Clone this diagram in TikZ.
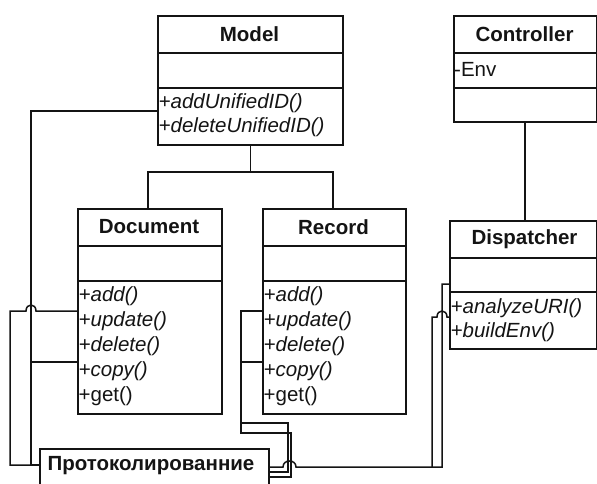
\documentclass[tikz,border=0pt]{standalone}
\usepackage{fontspec}
\setmainfont{Liberation Sans}
\definecolor{ink}{HTML}{141414}
\begin{document}
\begin{tikzpicture}[x=1pt,y=-1pt,
  cls/.style={draw=ink, line width=1.7pt, rectangle, inner sep=0pt, anchor=north west},
  sep/.style={draw=ink, line width=1.6pt},
  wire/.style={draw=ink, line width=1.5pt},
  hdr/.style={font=\fontsize{20.5}{23}\selectfont\bfseries, text=ink, inner sep=0pt},
  meth/.style={font=\fontsize{20.5}{23}\selectfont, text=ink, inner sep=0pt, anchor=west}]
\useasboundingbox (0,0) rectangle (597,484);

% Model
\node[cls, minimum width=185pt, minimum height=129pt] (model) at (157,15) {};
\draw[sep] (model.west |- 0,53) -- (model.east |- 0,53);
\draw[sep] (model.west |- 0,88) -- (model.east |- 0,88);
\node[hdr] (modelH) at (249.5,34) {Model};
\node[meth] (m1) at (158.5,103) {\textit{+addUnifiedID()}};
\node[meth] (m2) at (158.5,127) {\textit{+deleteUnifiedID()}};

% Controller
\node[cls, minimum width=143pt, minimum height=106pt] (ctrl) at (453,15) {};
\draw[sep] (ctrl.west |- 0,53) -- (ctrl.east |- 0,53);
\draw[sep] (ctrl.west |- 0,88) -- (ctrl.east |- 0,88);
\node[hdr] (ctrlH) at (524.5,34) {Controller};
\node[meth] (c1) at (454,69) {-Env};

% Dispatcher
\node[cls, minimum width=147pt, minimum height=128pt] (disp) at (449,220) {};
\draw[sep] (disp.west |- 0,258) -- (disp.east |- 0,258);
\draw[sep] (disp.west |- 0,292) -- (disp.east |- 0,292);
\node[hdr] (dispH) at (524.5,239) {Dispatcher};
\node[meth] (d1) at (450.5,308) {\textit{+analyzeURI()}};
\node[meth] (d2) at (450.5,332) {\textit{+buildEnv()}};

% Document
\node[cls, minimum width=144pt, minimum height=205pt] (doc) at (77,208) {};
\draw[sep] (doc.west |- 0,246) -- (doc.east |- 0,246);
\draw[sep] (doc.west |- 0,281) -- (doc.east |- 0,281);
\node[hdr] (docH) at (149,227) {Document};
\node[meth] (o1) at (78.5,296) {\textit{+add()}};
\node[meth] (o2) at (78.5,321) {\textit{+update()}};
\node[meth] (o3) at (78.5,346) {\textit{+delete()}};
\node[meth] (o4) at (78.5,371) {\textit{+copy()}};
\node[meth] (o5) at (78.5,396) {+get()};

% Record
\node[cls, minimum width=143pt, minimum height=205pt] (rec) at (262,208) {};
\draw[sep] (rec.west |- 0,246) -- (rec.east |- 0,246);
\draw[sep] (rec.west |- 0,281) -- (rec.east |- 0,281);
\node[hdr] (recH) at (333.5,227) {Record};
\node[meth] (r1) at (263.5,296) {\textit{+add()}};
\node[meth] (r2) at (263.5,321) {\textit{+update()}};
\node[meth] (r3) at (263.5,346) {\textit{+delete()}};
\node[meth] (r4) at (263.5,371) {\textit{+copy()}};
\node[meth] (r5) at (263.5,396) {+get()};

% Protokol
\node[cls, minimum width=229pt, minimum height=50pt] (prot) at (39,448) {};
\node[hdr] (protH) at (151,466) {Протоколированние};

% Model inheritance
\coordinate (mj) at (model.south |- 0,172);
\draw[wire] (model.south) -- (mj);
\draw[wire] (doc.north -| 148,0) -- (148,172) -- (333,172) -- (rec.north -| 333,0);
% Controller - Dispatcher
\draw[wire] (ctrl.south -| 525,0) -- (disp.north -| 525,0);

% left wires
\coordinate (pl) at (prot.west |- 0,465);
\draw[wire] (model.west |- 0,111) -- (31,111) -- (31,465) -- (pl);
\draw[wire] (doc.west |- 0,311) -- (36,311) .. controls (36,303) and (26,303) .. (26,311) -- (10,311) -- (10,465) -- (pl);
\draw[wire] (doc.west |- 0,362) -- (31,362);

% record wires
\draw[wire] (rec.west |- 0,311) -- (241,311) -- (241,433) -- (291,433) -- (291,477) -- (prot.east |- 0,477);
\draw[wire] (rec.west |- 0,362) -- (241,362) -- (241,423) -- (288,423) -- (288,472) -- (prot.east |- 0,472);

% dispatcher wires
\draw[wire] (disp.west |- 0,284) -- (442,284) -- (442,467) -- (296,467) .. controls (296,459) and (283,459) .. (283,467) -- (prot.east |- 0,467);
\draw[wire] (disp.west |- 0,317) -- (447,317) .. controls (447,309) and (437,309) .. (437,317) -- (432,317) -- (432,467);
\end{tikzpicture}
\end{document}
